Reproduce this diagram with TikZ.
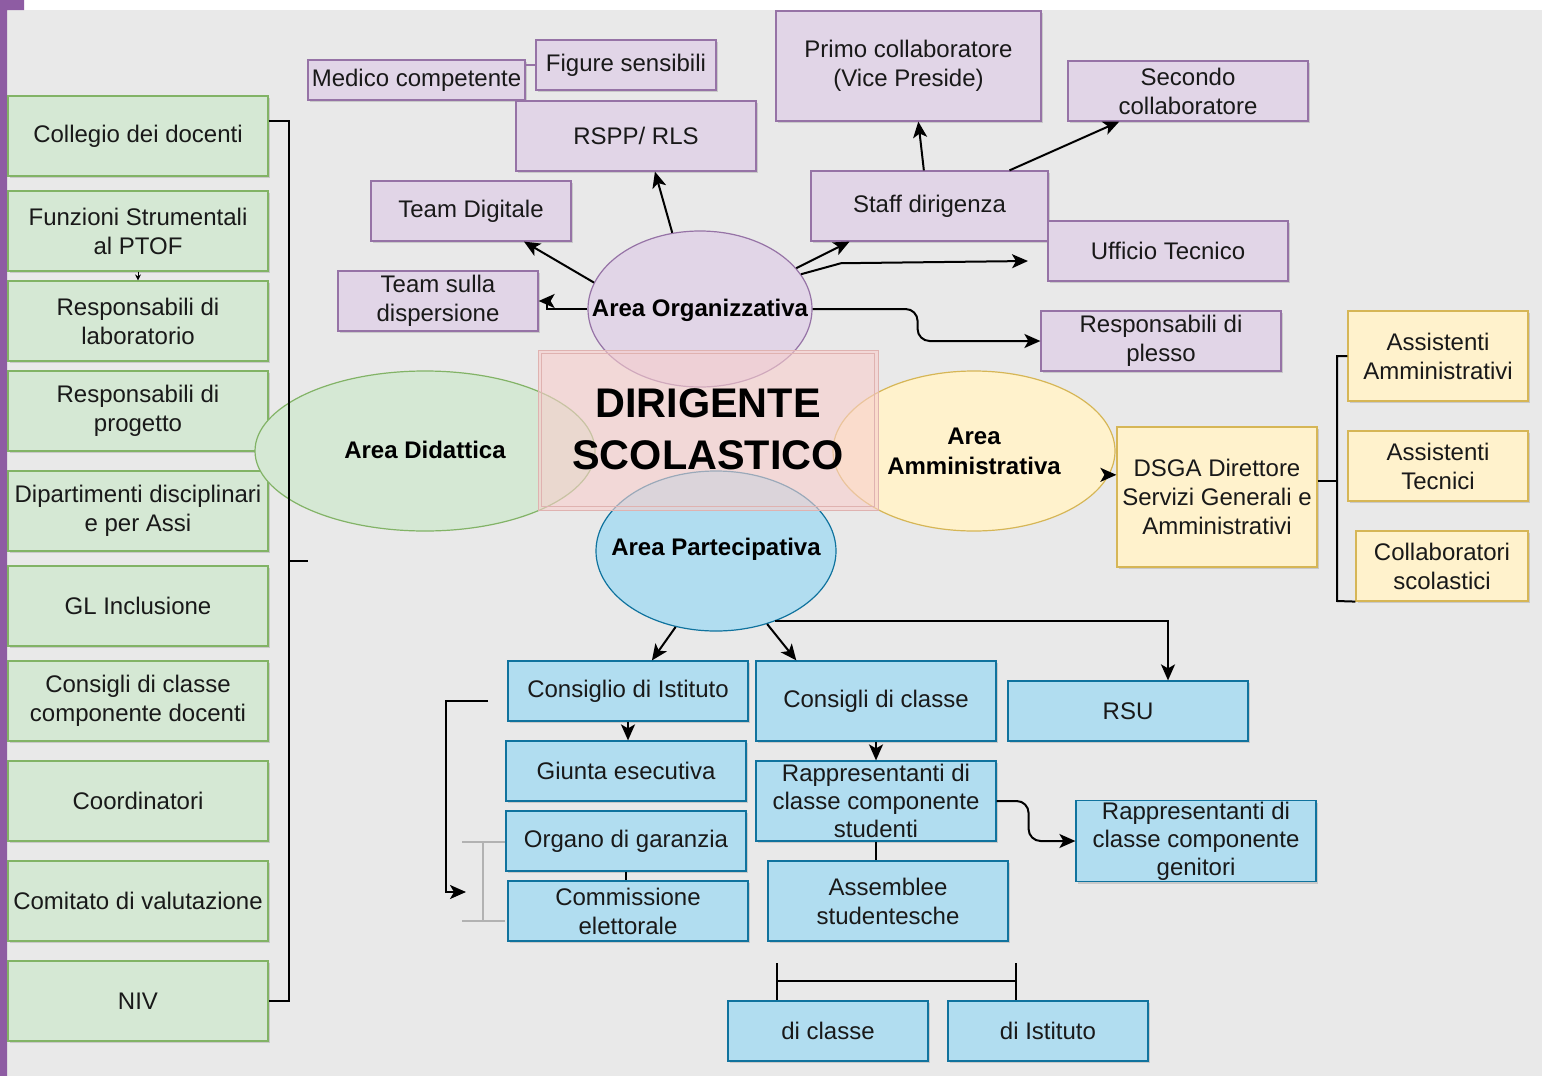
\documentclass[tikz,border=0pt]{standalone}
\usepackage{fontspec}
\setmainfont{Liberation Sans}
\usetikzlibrary{arrows.meta,shapes.geometric,shadows}

\definecolor{bgc}{RGB}{233,233,233}
\definecolor{sidebar}{RGB}{142,92,163}
\definecolor{ink}{RGB}{25,25,25}
\definecolor{gfill}{HTML}{D5E8D4}\definecolor{gline}{HTML}{82B366}
\definecolor{pfill}{HTML}{E1D5E7}\definecolor{pline}{HTML}{9673A6}
\definecolor{yfill}{HTML}{FFF2CC}\definecolor{yline}{HTML}{D6B656}
\definecolor{bfill}{HTML}{B1DDF0}\definecolor{bline}{HTML}{10739E}
\definecolor{rfill}{HTML}{F8CECC}\definecolor{rline}{HTML}{B85450}

\begin{document}
\begin{tikzpicture}[x=0.5pt,y=-0.5pt,>={Stealth[length=8pt,width=7pt,inset=2pt]},line width=1pt,
  font=\fontsize{12}{14.5}\selectfont]
  \tikzstyle{blk}=[rectangle,line width=0.6pt,align=center,inner sep=0.5pt,text=ink,
    drop shadow={shadow xshift=1.2pt,shadow yshift=-1.2pt,opacity=0.3}]
  \tikzstyle{gbox}=[blk,fill=gfill,draw=gline,minimum width=130pt,minimum height=40pt]
  \tikzstyle{pbox}=[blk,fill=pfill,draw=pline]
  \tikzstyle{ybox}=[blk,fill=yfill,draw=yline]
  \tikzstyle{bbox}=[blk,fill=bfill,draw=bline]
  \tikzstyle{areashape}=[ellipse,line width=0.6pt,inner sep=0pt]
  \tikzstyle{areatext}=[align=center,text=black,font=\bfseries\fontsize{12}{15}\selectfont]

  \useasboundingbox (0,0) rectangle (1542,1076);
  \fill[bgc] (0,0) rectangle (1542,1076);
  \fill[white] (24,0) rectangle (1542,10);
  \fill[sidebar] (0,0) rectangle (24,10) (0,0) rectangle (7,1076);

  \node[gbox] (CD)  at (138,136)  {Collegio dei docenti};
  \node[gbox] (FS)  at (138,231)  {Funzioni Strumentali\\al PTOF};
  \node[gbox] (RL)  at (138,321)  {Responsabili di\\laboratorio};
  \node[gbox] (RPR) at (138,411)  {Responsabili di\\progetto};
  \node[gbox] (DD)  at (138,511)  {Dipartimenti disciplinari\\e per Assi};
  \node[gbox] (GL)  at (138,606)  {GL Inclusione};
  \node[gbox] (CCD) at (138,701)  {Consigli di classe\\componente docenti};
  \node[gbox] (CO)  at (138,801)  {Coordinatori};
  \node[gbox] (CV)  at (138,901)  {Comitato di valutazione};
  \node[gbox] (NI)  at (138,1001) {NIV};

  \node[areashape,fill=gfill,draw=gline,minimum width=170pt,minimum height=80pt] (AD) at (425,451) {};
  \node[areashape,fill=pfill,draw=pline,minimum width=112pt,minimum height=78pt] (AO) at (700,309) {};
  \node[areashape,fill=yfill,draw=yline,minimum width=141pt,minimum height=80pt] (AA) at (974,451) {};
  \node[areashape,fill=bfill,draw=bline,minimum width=120pt,minimum height=80pt] (AP) at (716,551) {};
  \node[rectangle,fill=rfill,fill opacity=0.6,draw=rline!45,line width=0.5pt,
    minimum width=170pt,minimum height=80pt] (DR) at (708,430) {};
  \draw[rline!45,line width=0.5pt] ([shift={(2pt,-2pt)}]DR.north west) rectangle ([shift={(-2pt,2pt)}]DR.south east);

  \node[areatext] (ADt) at (425,450) {Area Didattica};
  \node[areatext] (AOt) at (700,310) {Area Organizzativa};
  \node[areatext] (AAt) at (974,451) {Area\\Amministrativa};
  \node[areatext] (APt) at (716,549) {Area Partecipativa};
  \node[align=center,font=\bfseries\fontsize{20.7}{26}\selectfont] (DRt) at (708,429) {DIRIGENTE\\SCOLASTICO};

  \node[pbox,minimum width=108.5pt,minimum height=20pt] (MC) at (416.5,80) {Medico competente};
  \node[pbox,minimum width=90pt,minimum height=25pt]    (FG) at (626,65)   {Figure sensibili};
  \node[pbox,minimum width=120pt,minimum height=35pt]   (RS) at (636,136)  {RSPP/ RLS};
  \node[pbox,minimum width=100pt,minimum height=30pt]   (TD) at (471,211)  {Team Digitale};
  \node[pbox,minimum width=100pt,minimum height=30pt]   (TS) at (438,301)  {Team sulla\\dispersione};
  \node[pbox,minimum width=132.5pt,minimum height=55pt] (PC) at (908.5,66) {Primo collaboratore\\(Vice Preside)};
  \node[pbox,minimum width=120pt,minimum height=30pt]   (SC) at (1188,91)  {Secondo\\collaboratore};
  \node[pbox,minimum width=118.5pt,minimum height=35pt] (SD) at (929.5,206) {Staff dirigenza};
  \node[pbox,minimum width=120pt,minimum height=30pt]   (UT) at (1168,251) {Ufficio Tecnico};
  \node[pbox,minimum width=120pt,minimum height=30pt]   (RP) at (1161,341) {Responsabili di\\plesso};

  \node[ybox,minimum width=100pt,minimum height=70pt] (DS) at (1217,497) {DSGA Direttore\\Servizi Generali e\\Amministrativi};
  \node[ybox,minimum width=90pt,minimum height=45pt]  (AM) at (1438,356) {Assistenti\\Amministrativi};
  \node[ybox,minimum width=90pt,minimum height=35pt]  (AT) at (1438,466) {Assistenti\\Tecnici};
  \node[ybox,minimum width=86pt,minimum height=35pt]  (CS) at (1442,566) {Collaboratori\\scolastici};

  \node[bbox,minimum width=120pt,minimum height=30pt] (CI)  at (628,691)  {Consiglio di Istituto};
  \node[bbox,minimum width=120pt,minimum height=30pt] (GE)  at (626,771)  {Giunta esecutiva};
  \node[bbox,minimum width=120pt,minimum height=30pt] (OG)  at (626,841)  {Organo di garanzia};
  \node[bbox,minimum width=120pt,minimum height=30pt] (CE)  at (628,911)  {Commissione\\elettorale};
  \node[bbox,minimum width=120pt,minimum height=40pt] (CC)  at (876,701)  {Consigli di classe};
  \node[bbox,minimum width=120pt,minimum height=40pt,font=\fontsize{12}{14}\selectfont] (RCS) at (876,801) {Rappresentanti di\\classe componente\\studenti};
  \node[bbox,minimum width=120pt,minimum height=40pt] (AS)  at (888,901)  {Assemblee\\studentesche};
  \node[bbox,minimum width=120pt,minimum height=30pt] (RU)  at (1128,711) {RSU};
  \node[bbox,minimum width=120pt,minimum height=40pt,font=\fontsize{12}{14}\selectfont] (RCG) at (1196,841) {Rappresentanti di\\classe componente\\genitori};
  \node[bbox,minimum width=100pt,minimum height=30pt] (DC)  at (828,1031) {di classe};
  \node[bbox,minimum width=100pt,minimum height=30pt] (DI)  at (1048,1031) {di Istituto};

  \path[->] (AO.110) edge (RS.-62)
            (AO.166) edge (TD.-30)
            (AO.23)  edge (SD.204)
            (SD.99)  edge (PC.-80)
            (SD.24)  edge (SC.204)
            (AP.242) edge (CI.52)
            (AP.-55) edge (CC.153)
            (CI.south) edge (CI.south |- GE.north)
            (CC.south) edge (RCS.north)
            (AA.-10) edge (AA.-10 -| DS.west);
  \draw[-{Stealth[length=3pt,width=3pt]},line width=0.4pt] (FS.south) -- (RL.north);

  \draw[->] (AO.west) -- ++(-40,0) |- (TS.east);
  \coordinate (UTin) at (1028,261);
  \draw[->] (AO.19) -- ++(40,-11) -- (UTin);
  \draw[->,rounded corners=6pt] (AO.east) -- ++(105,0) -- ++(0,32) -- (RP.west);
  \draw[pline,line width=0.6pt] (MC.east |- FG.west) -- (FG.west);

  \draw[->] (AP.-50) -| ([xshift=20pt]RU.north);
  \draw[->,rounded corners=6pt] (RCS.east) -- ++(32,0) -- ++(0,40) -- (RCG.west);
  \draw (RCS.south) -- (RCS.south |- AS.north);
  \draw (OG.south) -- (OG.south |- CE.north);
  \coordinate (CIl) at (488,701);
  \coordinate (CEl) at (466,892);
  \draw[->] (CIl) -- ++(-42,0) |- (CEl);
  \draw[gray!60,line width=0.6pt] (462,842) -- (505,842) (462,921) -- (505,921) (483,842) -- (483,921);
  \draw (777,963) -- (777,0 |- DC.north) (1016,963) -- (1016,0 |- DI.north) (777,981) -- (1016,981);

  \draw ([yshift=7.5pt]CD.east) -- ++(20,0) |- (NI.east);
  \coordinate (LB) at (288,561);
  \draw (LB) -- ++(20,0);

  \draw ([yshift=8pt]DS.east) -- ++(20,0);
  \draw (AM.west) -| (1337,601) -- (CS.south west);
\end{tikzpicture}
\end{document}
